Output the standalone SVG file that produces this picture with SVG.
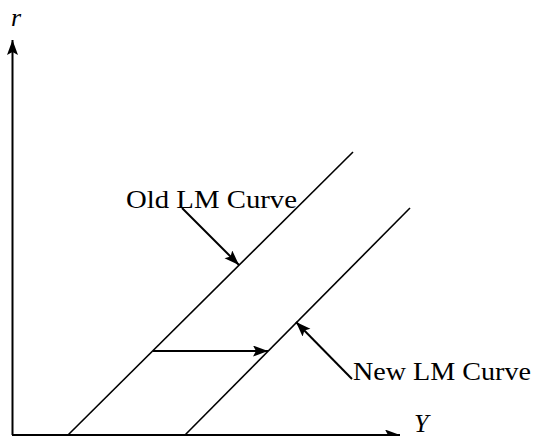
<svg xmlns="http://www.w3.org/2000/svg" width="534" height="436" viewBox="0 0 534 436">
<style>
.ln{stroke:#000;stroke-width:1.6;fill:none}
.ar{stroke:#000;stroke-width:2;fill:none;marker-end:url(#ah)}
.t{font-family:"Liberation Serif","Times New Roman",serif;font-size:26px;fill:#000}
.i{font-style:italic}
</style>
<defs>
<marker id="ah" markerUnits="userSpaceOnUse" markerWidth="18" markerHeight="12" refX="15" refY="5.5" orient="auto">
<path d="M0,0 L15,5.5 L0,11 L3,5.5 Z" fill="#000"/>
</marker>
</defs>
<rect width="534" height="436" fill="#fff"/>
<g id="axes">
<line class="ar" x1="12.5" y1="435" x2="12.5" y2="40"/>
<line class="ar" x1="12" y1="435" x2="400" y2="435"/>
<text class="t i" x="11" y="26">r</text>
<text class="t i" x="414" y="432">Y</text>
</g>
<g id="old-lm">
<line class="ln" x1="68" y1="435" x2="353" y2="152"/>
</g>
<g id="new-lm">
<line class="ln" x1="185" y1="435" x2="410" y2="208"/>
</g>
<g id="old-label">
<text class="t" x="126" y="208" textLength="171" lengthAdjust="spacingAndGlyphs">Old LM Curve</text>
</g>
<g id="new-label">
<text class="t" x="353" y="380" textLength="178" lengthAdjust="spacingAndGlyphs">New LM Curve</text>
</g>
<g id="connectors">
<line class="ar" x1="182" y1="208" x2="239" y2="265"/>
<line class="ar" x1="153" y1="351" x2="268" y2="351"/>
<line class="ar" x1="352" y1="379" x2="296" y2="322"/>
</g>
</svg>
